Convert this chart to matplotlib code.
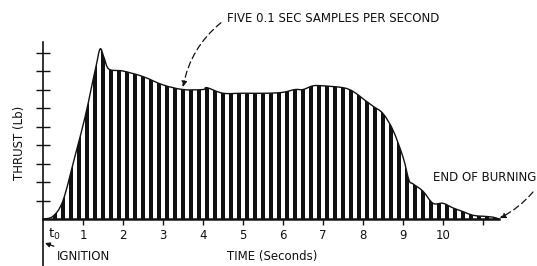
import numpy as np
import matplotlib.pyplot as plt
from matplotlib.path import Path
from matplotlib.patches import PathPatch

# thrust outline (time in s, thrust in tick units)
curve_t = [0, 0.25, 0.5, 0.8, 1.05, 1.2, 1.33, 1.43, 1.53, 1.65, 2.0, 2.5,
           3.0, 3.5, 4.0, 4.1, 4.5, 5.0, 5.6, 6.0, 6.3, 6.5, 6.75, 7.0, 7.5,
           7.75, 8.0, 8.25, 8.5, 8.75, 9.0, 9.15, 9.25, 9.5, 9.75, 10.0, 10.25,
           10.5, 10.75, 11.0, 11.25, 11.4]
curve_thrust = [0, 0.15, 1.0, 3.4, 5.5, 7.0, 8.3, 9.2, 8.7, 8.1, 8.0, 7.7,
                7.25, 7.0, 7.0, 7.1, 6.8, 6.8, 6.8, 6.85, 7.0, 7.0, 7.2, 7.2, 7.1,
                6.9, 6.5, 6.1, 5.7, 4.8, 3.35, 2.1, 1.9, 1.5, 0.85, 0.85, 0.6,
                0.4, 0.2, 0.15, 0.1, 0]

# five 0.1 s samples per second
sample_t = [0.1, 0.3, 0.5, 0.7, 0.9, 1.1, 1.3, 1.5, 1.7, 1.9, 2.1, 2.3, 2.5, 2.7,
            2.9, 3.1, 3.3, 3.5, 3.7, 3.9, 4.1, 4.3, 4.5, 4.7, 4.9, 5.1, 5.3, 5.5,
            5.7, 5.9, 6.1, 6.3, 6.5, 6.7, 6.9, 7.1, 7.3, 7.5, 7.7, 7.9, 8.1, 8.3,
            8.5, 8.7, 8.9, 9.1, 9.3, 9.5, 9.7, 9.9, 10.1, 10.3, 10.5, 10.7, 10.9,
            11.1, 11.3]
sample_thrust = [0.05, 0.2, 1.0, 2.6, 4.2, 6.2, 8.0, 9.0, 8.1, 8.0, 8.0, 7.9, 7.7,
                 7.5, 7.35, 7.2, 7.1, 7.0, 7.0, 7.0, 7.05, 6.95, 6.8, 6.85, 6.8,
                 6.85, 6.8, 6.8, 6.85, 6.9, 6.9, 7.0, 7.0, 7.15, 7.2, 7.2, 7.2,
                 7.1, 7.0, 6.7, 6.35, 6.0, 5.7, 5.1, 4.0, 2.5, 1.85, 1.5, 1.0, 0.8,
                 0.85, 0.55, 0.4, 0.25, 0.15, 0.12, 0.08]

x_ticks = [1, 2, 3, 4, 5, 6, 7, 8, 9, 10, 11]
x_labels = ['1', '2', '3', '4', '5', '6', '7', '8', '9', '10', '']
y_ticks = [1, 2, 3, 4, 5, 6, 7, 8, 9]

ink = '#111111'
plt.rcParams['font.family'] = ['DejaVu Sans']


def smooth_path(xs, ys, close_to_base=False):
    # catmull-rom through the read points, drawn as cubic beziers
    p = np.column_stack([xs, ys]).astype(float)
    verts = [p[0]]
    codes = [Path.MOVETO]
    n = len(p)
    for i in range(n - 1):
        p0 = p[max(i - 1, 0)]
        p1, p2 = p[i], p[i + 1]
        p3 = p[min(i + 2, n - 1)]
        verts += [p1 + (p2 - p0) / 6, p2 - (p3 - p1) / 6, p2]
        codes += [Path.CURVE4] * 3
    if close_to_base:
        verts += [p[0], p[0]]
        codes += [Path.LINETO, Path.CLOSEPOLY]
    return Path(verts, codes)


fig = plt.figure(figsize=(5.37, 2.66), dpi=100)
ax = fig.add_axes([0, 0, 1, 1])
ax.set_xlim(-1.075, 12.35)
ax.set_ylim(-2.54, 11.84)

# clip the bars to the area under the outline
clip = PathPatch(smooth_path(curve_t, curve_thrust, True), facecolor='none',
                 edgecolor='none')
ax.add_patch(clip)
bars = ax.bar(sample_t, np.array(sample_thrust) + 0.3, width=0.1, color=ink,
              linewidth=0)
for b in bars:
    b.set_clip_path(clip)
ax.add_patch(PathPatch(smooth_path(curve_t, curve_thrust), facecolor='none',
                       edgecolor=ink, lw=1.0))

# axes
for s in ['top', 'right']:
    ax.spines[s].set_visible(False)
ax.spines['left'].set_position(('data', 0))
ax.spines['left'].set_bounds(-2.6, 9.57)
ax.spines['bottom'].set_position(('data', 0))
ax.spines['bottom'].set_bounds(0, 11.4)
ax.spines['bottom'].set_linewidth(1.8)
ax.spines['left'].set_linewidth(1.2)
ax.spines['left'].set_color(ink)
ax.spines['bottom'].set_color(ink)
ax.set_yticks(y_ticks)
ax.set_yticklabels([])
ax.tick_params(axis='y', direction='inout', length=9.5, width=1.0, color=ink)
ax.set_xticks(x_ticks)
ax.set_xticklabels(x_labels)
ax.tick_params(axis='x', direction='out', length=4.5, width=1.0, color=ink,
               pad=2.5, labelsize=8.5, labelcolor=ink)

fs = 8.5
ax.text(0.12, -0.85, r'$\mathregular{t_0}$', fontsize=9.5, color=ink, ha='left', va='center')
ax.text(5.73, -2.05, 'TIME (Seconds)', fontsize=fs, color=ink, ha='center', va='center')
ax.text(-0.575, 4.1, 'THRUST (Lb)', fontsize=fs, color=ink, ha='center', va='center',
        rotation=90)

ax.annotate('FIVE 0.1 SEC SAMPLES PER SECOND', xy=(3.5, 7.14), xytext=(4.6, 10.86),
            fontsize=fs, color=ink, ha='left', va='center',
            arrowprops=dict(arrowstyle='-|>', color=ink, lw=0.9, ls=(0, (5, 3)),
                            connectionstyle='arc3,rad=0.2', relpos=(0, 0.5),
                            shrinkA=3, shrinkB=0, mutation_scale=8))
ax.text(9.75, 2.27, 'END OF BURNING', fontsize=fs, color=ink, ha='left', va='center')
ax.annotate('', xy=(11.42, 0.05), xytext=(12.25, 1.46),
            arrowprops=dict(arrowstyle='-|>', color=ink, lw=0.9, ls=(0, (5, 3)),
                            connectionstyle='arc3,rad=-0.1', shrinkA=0, shrinkB=0,
                            mutation_scale=8))
ax.annotate('IGNITION', xy=(0.05, -1.3), xytext=(0.35, -2.05),
            fontsize=fs, color=ink, ha='left', va='center',
            arrowprops=dict(arrowstyle='-|>', color=ink, lw=0.9, shrinkA=3, shrinkB=0,
                            mutation_scale=7))

fig.savefig('out.png', dpi=100)
